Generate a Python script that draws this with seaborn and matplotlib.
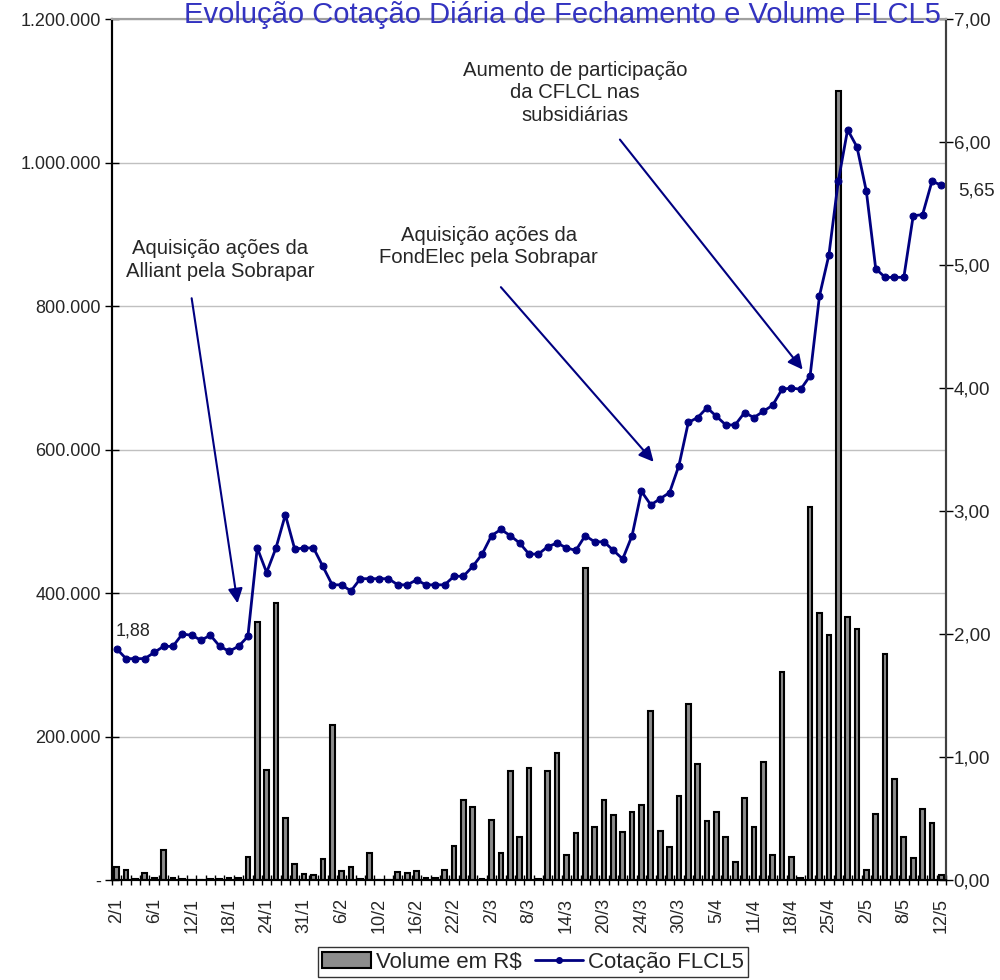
import matplotlib
matplotlib.use("Agg")
import matplotlib.pyplot as plt
import seaborn as sns
import pandas as pd
import numpy as np
from matplotlib.patches import Patch
from matplotlib.lines import Line2D
from matplotlib.ticker import FuncFormatter

# trading days 2/1 .. 12/5
dates = [
    "2/1", "3/1", "4/1", "5/1", "6/1", "9/1", "10/1", "11/1", "12/1", "13/1",
    "16/1", "17/1", "18/1", "19/1", "20/1", "23/1", "24/1", "26/1", "27/1", "30/1",
    "31/1", "1/2", "2/2", "3/2", "6/2", "7/2", "8/2", "9/2", "10/2", "13/2",
    "14/2", "15/2", "16/2", "17/2", "20/2", "21/2", "22/2", "23/2", "24/2", "1/3",
    "2/3", "3/3", "6/3", "7/3", "8/3", "9/3", "10/3", "13/3", "14/3", "15/3",
    "16/3", "17/3", "20/3", "21/3", "22/3", "23/3", "24/3", "27/3", "28/3", "29/3",
    "30/3", "31/3", "3/4", "4/4", "5/4", "6/4", "7/4", "10/4", "11/4", "12/4",
    "13/4", "17/4", "18/4", "19/4", "20/4", "24/4", "25/4", "26/4", "27/4", "28/4",
    "2/5", "3/5", "4/5", "5/5", "8/5", "9/5", "10/5", "11/5", "12/5",
]

volume = [
    18600, 13900, 1000, 9300, 3000, 41800, 3000, 1000, 500, 500,
    1500, 1000, 2500, 2500, 32500, 359000, 154000, 385600, 86900, 22300,
    7900, 7000, 29700, 216500, 12500, 18600, 1000, 38000, 500, 500,
    11600, 9300, 13000, 3300, 3300, 13900, 47900, 111500, 101800, 1000,
    83600, 37600, 151400, 60400, 156000, 1000, 152400, 177500, 34800, 66000,
    434800, 74300, 111500, 91000, 66900, 95200, 104500, 235000, 68300, 46500,
    117000, 245000, 161700, 81800, 95200, 59500, 25600, 114300, 73900, 164500,
    35300, 289400, 32500, 3300, 520000, 372000, 342000, 1100000, 366000, 350000,
    13900, 91500, 314500, 140300, 60400, 30200, 99000, 79000, 7000,
]

price = [
    1.88, 1.80, 1.80, 1.80, 1.85, 1.90, 1.90, 2.00, 1.99, 1.95,
    1.99, 1.90, 1.86, 1.90, 1.98, 2.70, 2.50, 2.70, 2.97, 2.69,
    2.70, 2.70, 2.55, 2.40, 2.40, 2.35, 2.45, 2.45, 2.45, 2.45,
    2.40, 2.40, 2.44, 2.40, 2.40, 2.40, 2.47, 2.47, 2.55, 2.65,
    2.80, 2.85, 2.80, 2.74, 2.65, 2.65, 2.71, 2.74, 2.70, 2.68,
    2.80, 2.75, 2.75, 2.68, 2.61, 2.80, 3.16, 3.05, 3.10, 3.15,
    3.37, 3.72, 3.76, 3.84, 3.77, 3.70, 3.70, 3.80, 3.76, 3.81,
    3.86, 3.99, 4.00, 3.99, 4.10, 4.75, 5.08, 5.68, 6.10, 5.96,
    5.60, 4.97, 4.90, 4.90, 4.90, 5.40, 5.41, 5.68, 5.65,
]

BAR_GRAY = "#8c8c8c"
NAVY = "#000080"

sns.set_theme(style="white")
plt.rcParams["font.family"] = ["Liberation Sans", "DejaVu Sans"]

df = pd.DataFrame({"pos": np.arange(len(dates)), "volume": volume, "price": price})

fig = plt.figure(figsize=(10, 9.8), dpi=100)
ax = fig.add_axes([0.112, 0.102, 0.834, 0.8786])

sns.barplot(data=df, x="pos", y="volume", color=BAR_GRAY, saturation=1,
            edgecolor="black", linewidth=1.5, width=0.5, errorbar=None, ax=ax)

ax2 = ax.twinx()
sns.lineplot(data=df, x="pos", y="price", color=NAVY, linewidth=2, marker="o",
             markersize=5, markeredgecolor=NAVY, ax=ax2)

n = len(dates)
ax.set_xlim(-0.5, n - 0.5)
ax2.set_xlim(-0.5, n - 0.5)
ax.set_ylim(0, 1200000)
ax2.set_ylim(0, 7)
ax.set_yticks(np.arange(0, 1200001, 200000))
ax2.set_yticks(np.arange(0, 8, 1))

ax.set_xticks(np.arange(0, n, 4))
ax.set_xticklabels(dates[::4], rotation=90)
ax.set_xticks(np.arange(-0.5, n, 1), minor=True)
ax.tick_params(axis="x", which="major", length=0, pad=13, labelsize=13)
ax.tick_params(axis="x", which="minor", direction="inout", length=7, width=1,
               color="black", bottom=True)

ax.yaxis.set_major_formatter(FuncFormatter(
    lambda v, _: "-" if v == 0 else f"{int(v):,}".replace(",", ".")))
ax2.yaxis.set_major_formatter(FuncFormatter(lambda v, _: f"{v:.2f}".replace(".", ",")))
ax.tick_params(axis="y", direction="inout", length=10, width=1, color="black",
               labelsize=13, pad=3, left=True)
ax2.tick_params(axis="y", direction="inout", length=10, width=1, color="black",
                labelsize=13.5, pad=0.5, right=True)

ax.yaxis.grid(True, color="#c0c0c0", linewidth=1)
ax.set_axisbelow(True)
for a in (ax, ax2):
    a.set_xlabel("")
    a.set_ylabel("")
    a.spines["left"].set_color("black")
    a.spines["bottom"].set_color("black")
    a.spines["top"].set_color("#a0a0a0")
    a.spines["right"].set_color("#404040")
    for s in a.spines.values():
        s.set_linewidth(1.5)

# data labels
fmt = lambda v: f"{v:.2f}".replace(".", ",")
ax2.annotate(fmt(price[0]), xy=(0, price[0]), xytext=(-1, 13), textcoords="offset points",
             fontsize=13, ha="left", va="center")
ax2.annotate(fmt(price[-1]), xy=(n - 1, price[-1]), xytext=(12, -4), textcoords="offset points",
             fontsize=13.5, ha="left", va="center", annotation_clip=False)

# event annotations
arrow = dict(arrowstyle="-|>", color=NAVY, lw=1.5, mutation_scale=22, shrinkA=0, shrinkB=0)
notes = [
    ("Aquisição ações da\nAlliant pela Sobrapar", (11.0, 5.04), (8.0, 4.73), (12.9, 2.25)),
    ("Aquisição ações da\nFondElec pela Sobrapar", (39.7, 5.15), (41.0, 4.82), (57.3, 3.40)),
    ("Aumento de participação\nda CFLCL nas\nsubsidiárias", (48.9, 6.40), (53.7, 6.02), (73.2, 4.15)),
]
for text, pos, tail, tip in notes:
    ax2.text(pos[0], pos[1], text, ha="center", va="center", fontsize=14.6, linespacing=1.22)
    ax2.annotate("", xy=tip, xytext=tail, arrowprops=arrow)

fig.text(0.562, 1 - 23 / 980, "Evolução Cotação Diária de Fechamento e Volume FLCL5",
         ha="center", va="baseline", fontsize=21, color="#3333c0")

handles = [Patch(facecolor=BAR_GRAY, edgecolor="black", linewidth=1.5),
           Line2D([], [], color=NAVY, marker="o", markersize=4, linewidth=2)]
leg = fig.legend(handles, ["Volume em R$", "Cotação FLCL5"], loc="center",
                 bbox_to_anchor=(0.533, 1 - 962 / 980), ncol=2, frameon=True,
                 fontsize=16, fancybox=False, edgecolor="black", handlelength=2.2,
                 handletextpad=0.2, columnspacing=0.6, borderpad=0.2)
leg.get_frame().set_linewidth(1)

fig.savefig("out.png", dpi=100)
